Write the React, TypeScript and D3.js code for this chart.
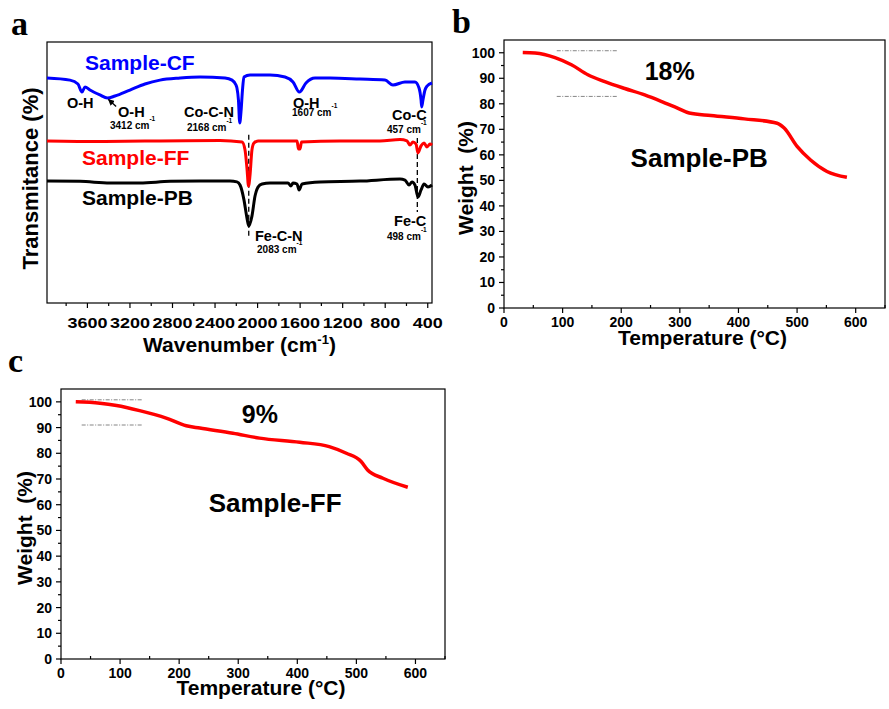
import React from 'react';
import * as d3 from 'd3';

// ---- FTIR spectra (wavenumber cm-1, transmittance a.u.) ----
const cfSpectrum: [number, number][] = [
  [3980, 86.2], [3764, 85.4], [3689, 83.9], [3651, 80.8], [3623, 82.8], [3576, 81.6],
  [3482, 79.7], [3412, 78.5], [3341, 79.3], [3200, 81.6], [3059, 83.9], [2918, 85.4],
  [2729, 86.2], [2541, 86.6], [2306, 86.2], [2240, 85.4], [2203, 83.5], [2194, 82.4],
  [2180, 77.8], [2168, 69.0], [2156, 73.2], [2142, 81.6], [2128, 86.6], [2071, 87.4],
  [1883, 87.4], [1742, 86.6], [1667, 84.7], [1607, 80.8], [1545, 84.3], [1460, 86.2],
  [1319, 86.2], [1037, 85.8], [802, 85.4], [727, 83.5], [614, 84.7], [520, 84.7],
  [482, 82.4], [463, 77.8], [457, 75.1], [445, 77.8], [426, 81.6], [407, 83.1], [360, 84.3],
];
const ffSpectrum: [number, number][] = [
  [3980, 62.1], [3482, 61.9], [2918, 62.1], [2353, 62.3], [2146, 61.7], [2118, 58.6],
  [2100, 51.7], [2085, 44.8], [2071, 49.0], [2053, 58.6], [2034, 61.3], [1996, 62.1],
  [1629, 62.1], [1615, 59.0], [1601, 59.0], [1587, 61.7], [1225, 62.1], [849, 62.1],
  [661, 62.6], [595, 62.1], [567, 60.5], [539, 61.7], [510, 60.9], [492, 57.5],
  [463, 60.2], [435, 61.3], [407, 59.8], [379, 60.9], [360, 60.5],
];
const pbSpectrum: [number, number][] = [
  [3980, 46.7], [3670, 46.6], [3388, 46.0], [3106, 46.0], [2823, 46.6], [2541, 46.7],
  [2259, 46.7], [2194, 46.4], [2165, 45.2], [2128, 39.5], [2100, 32.6], [2083, 29.5],
  [2053, 33.3], [2024, 41.0], [1996, 44.4], [1958, 45.6], [1883, 46.0], [1714, 46.0],
  [1686, 44.8], [1667, 46.0], [1629, 45.6], [1610, 43.3], [1582, 45.6], [1413, 46.4],
  [1037, 46.7], [661, 47.5], [614, 47.1], [576, 45.2], [548, 46.4], [520, 45.2],
  [492, 40.6], [463, 43.3], [435, 45.6], [398, 44.4], [360, 45.2],
];
const ftirMajorTicks = [3600, 3200, 2800, 2400, 2000, 1600, 1200, 800, 400];
const ftirMinorTicks = [3800, 3400, 3000, 2600, 2200, 1800, 1400, 1000, 600];

// dashed guides: wavenumber, top, bottom
const ftirGuides = [
  { wn: 2083, top: 64.5, bottom: 25 },
  { wn: 498, top: 63.2, bottom: 34.9 },
];

// peak labels: text, wavenumber at left edge, baseline value, size, superscript
const ftirLabels = [
  { text: 'O-H', wn: 3792, t: 74.7, size: 14.5, sup: false },
  { text: 'O-H', wn: 3312, t: 71.3, size: 14.5, sup: false },
  { text: '3412 cm', wn: 3388, t: 66.7, size: 10, sup: true },
  { text: 'Co-C-N', wn: 2692, t: 71.3, size: 14.5, sup: false },
  { text: '2168 cm', wn: 2664, t: 65.9, size: 10, sup: true },
  { text: 'O-H', wn: 1667, t: 74.7, size: 14.5, sup: false },
  { text: '1607 cm', wn: 1676, t: 71.6, size: 10, sup: true },
  { text: 'Co-C', wn: 736, t: 70.1, size: 14.5, sup: false },
  { text: '457 cm', wn: 783, t: 65.1, size: 10, sup: true },
  { text: 'Fe-C-N', wn: 2024, t: 23.8, size: 14.5, sup: false },
  { text: '2083 cm', wn: 2005, t: 19.2, size: 10, sup: true },
  { text: 'Fe-C', wn: 717, t: 29.5, size: 14.5, sup: false },
  { text: '498 cm', wn: 783, t: 24.1, size: 10, sup: true },
];
const sampleLabels = [
  { text: 'Sample-CF', wn: 3623, t: 89.3, color: '#0000ff' },
  { text: 'Sample-FF', wn: 3651, t: 52.9, color: '#ff0000' },
  { text: 'Sample-PB', wn: 3651, t: 37.5, color: '#000000' },
];

// ---- TGA curves (temperature C, weight %) ----
const tgaPB: [number, number][] = [
  [32, 100.1], [53, 99.9], [87, 98.1], [115, 95.3], [143, 91.4], [172, 88.7],
  [206, 86.0], [240, 83.5], [268, 81.0], [296, 78.3], [316, 76.4], [353, 75.4],
  [410, 74.1], [466, 72.4], [478, 70.5], [500, 63.3], [523, 58.0], [551, 53.5], [585, 51.2],
];
const tgaFF: [number, number][] = [
  [25, 100.0], [66, 99.5], [94, 98.6], [133, 96.6], [178, 93.7], [212, 90.7],
  [235, 89.8], [291, 87.8], [336, 85.9], [404, 84.3], [454, 82.6], [483, 80.0],
  [508, 76.8], [519, 73.5], [545, 70.3], [587, 66.8],
];
const pbGuides = { from: 90, to: 194, levels: [100.8, 82.9] };
const ffGuides = { from: 35, to: 139, levels: [100.8, 91] };

const SANS = '"Liberation Sans", Arial, sans-serif';
const SERIF = '"Liberation Serif", "Times New Roman", serif';

function FtirPanel() {
  const x = d3.scaleLinear().domain([3980, 360]).range([47, 432]);
  const y = d3.scaleLinear().domain([0, 100]).range([303, 42]);
  const line = d3.line<[number, number]>()
    .x(d => x(d[0]))
    .y(d => y(d[1]))
    .curve(d3.curveMonotoneX);
  const [x0, x1] = x.range();
  const [y0, y1] = y.range();

  return (
    <g>
      <text x={11} y={35} fontFamily={SERIF} fontWeight="bold" fontSize={34}>a</text>
      <rect x={x0} y={y1} width={x1 - x0} height={y0 - y1} fill="none" stroke="#000" strokeWidth={1.2} />

      {ftirMajorTicks.map(t => (
        <g key={t}>
          <line x1={x(t)} x2={x(t)} y1={y0} y2={y0 + 5} stroke="#000" strokeWidth={1.2} />
          <text x={x(t)} y={y0 + 25} textAnchor="middle" fontFamily={SANS} fontWeight="bold"
            fontSize={15} textLength={t >= 1000 ? 40 : 30} lengthAdjust="spacingAndGlyphs">{t}</text>
        </g>
      ))}
      {ftirMinorTicks.map(t => (
        <line key={t} x1={x(t)} x2={x(t)} y1={y0} y2={y0 + 3} stroke="#000" strokeWidth={1.2} />
      ))}

      <text x={(x0 + x1) / 2} y={352} textAnchor="middle" fontFamily={SANS} fontWeight="bold" fontSize={21}>
        Wavenumber (cm<tspan dy={-8} fontSize={13}>-1</tspan><tspan dy={8}>)</tspan>
      </text>
      <text transform={`translate(38,${(y0 + y1) / 2 + 6}) rotate(-90)`} textAnchor="middle"
        fontFamily={SANS} fontWeight="bold" fontSize={22}>Transmitance (%)</text>

      {ftirGuides.map(g => (
        <line key={g.wn} x1={x(g.wn)} x2={x(g.wn)} y1={y(g.top)} y2={y(g.bottom)}
          stroke="#000" strokeWidth={1.3} strokeDasharray="5,3" />
      ))}

      <path d={line(pbSpectrum) || ''} fill="none" stroke="#000" strokeWidth={3} />
      <path d={line(ffSpectrum) || ''} fill="none" stroke="#ff0000" strokeWidth={3} />
      <path d={line(cfSpectrum) || ''} fill="none" stroke="#0000ff" strokeWidth={3} />

      <defs>
        <marker id="arrowHead" viewBox="0 0 10 10" refX="9" refY="5" markerWidth="5" markerHeight="5" orient="auto">
          <path d="M0,0 L10,5 L0,10 z" fill="#000" />
        </marker>
      </defs>
      <line x1={x(3330)} y1={y(75.3)} x2={x(3402)} y2={y(78)} stroke="#000" strokeWidth={1.3} markerEnd="url(#arrowHead)" />

      {sampleLabels.map(s => (
        <text key={s.text} x={x(s.wn)} y={y(s.t)} fill={s.color} fontFamily={SANS} fontWeight="bold" fontSize={21}>
          {s.text}
        </text>
      ))}
      {ftirLabels.map((l, i) => (
        <text key={i} x={x(l.wn)} y={y(l.t)} fontFamily={SANS} fontWeight="bold" fontSize={l.size}>
          {l.text}
          {l.sup && <tspan dy={-8} fontSize={6.5}>-1</tspan>}
        </text>
      ))}
    </g>
  );
}

type TgaProps = {
  letter: string;
  letterPos: [number, number];
  xRange: [number, number];
  yRange: [number, number];
  data: [number, number][];
  guides: { from: number; to: number; levels: number[] };
  pctLabel: { text: string; t: number; w: number };
  nameLabel: { text: string; t: number; w: number };
  yTitleX: number;
  xTitleY: number;
};

function TgaPanel(p: TgaProps) {
  const x = d3.scaleLinear().domain([0, 650]).range(p.xRange);
  const y = d3.scaleLinear().domain([0, 105]).range(p.yRange);
  const line = d3.line<[number, number]>()
    .x(d => x(d[0]))
    .y(d => y(d[1]))
    .curve(d3.curveMonotoneX);
  const [x0, x1] = p.xRange;
  const [y0, y1] = p.yRange;
  const xTicks = x.ticks(7);
  const yTicks = y.ticks(10);

  return (
    <g>
      <text x={p.letterPos[0]} y={p.letterPos[1]} fontFamily={SERIF} fontWeight="bold" fontSize={34}>{p.letter}</text>
      <rect x={x0} y={y1} width={x1 - x0} height={y0 - y1} fill="none" stroke="#000" strokeWidth={1.2} />

      {yTicks.map(t => (
        <g key={t}>
          <line x1={x0 - 5} x2={x0} y1={y(t)} y2={y(t)} stroke="#000" strokeWidth={1.2} />
          {t < 100 && <line x1={x0 - 3} x2={x0} y1={y(t + 5)} y2={y(t + 5)} stroke="#000" strokeWidth={1.2} />}
          <text x={x0 - 9} y={y(t) + 5} textAnchor="end" fontFamily={SANS} fontWeight="bold" fontSize={14}>{t}</text>
        </g>
      ))}
      {xTicks.map(t => (
        <g key={t}>
          <line x1={x(t)} x2={x(t)} y1={y0} y2={y0 + 5} stroke="#000" strokeWidth={1.2} />
          <line x1={x(t + 50)} x2={x(t + 50)} y1={y0} y2={y0 - 3} stroke="#000" strokeWidth={1.2} />
          <text x={x(t)} y={y0 + 19} textAnchor="middle" fontFamily={SANS} fontWeight="bold" fontSize={14}>{t}</text>
        </g>
      ))}

      <text x={(x0 + x1) / 2 + 8} y={p.xTitleY} textAnchor="middle" fontFamily={SANS} fontWeight="bold" fontSize={21}>
        Temperature (°C)
      </text>
      <text transform={`translate(${p.yTitleX},${(y0 + y1) / 2 + 4}) rotate(-90)`} textAnchor="middle"
        fontFamily={SANS} fontWeight="bold" fontSize={21}>{'Weight\u00a0\u00a0(%)'}</text>

      {p.guides.levels.map(l => (
        <line key={l} x1={x(p.guides.from)} x2={x(p.guides.to)} y1={y(l)} y2={y(l)}
          stroke="#777" strokeWidth={0.9} strokeDasharray="4,1.5,1,1.5" />
      ))}

      <path d={line(p.data) || ''} fill="none" stroke="#ff0000" strokeWidth={3.5} />

      <text x={x(p.pctLabel.t)} y={y(p.pctLabel.w)} fontFamily={SANS} fontWeight="bold" fontSize={25}>{p.pctLabel.text}</text>
      <text x={x(p.nameLabel.t)} y={y(p.nameLabel.w)} fontFamily={SANS} fontWeight="bold" fontSize={26}>{p.nameLabel.text}</text>
    </g>
  );
}

export default function App() {
  return (
    <div style={{ position: 'absolute', left: 0, top: 0, width: 889, height: 709, background: '#fff' }}>
      <svg width={889} height={709} viewBox="0 0 889 709">
        <rect width={889} height={709} fill="#fff" />
        <FtirPanel />
        <TgaPanel
          letter="b" letterPos={[452, 33]}
          xRange={[504, 885]} yRange={[308, 40]}
          data={tgaPB} guides={pbGuides}
          pctLabel={{ text: '18%', t: 240, w: 89.3 }}
          nameLabel={{ text: 'Sample-PB', t: 216, w: 55.3 }}
          yTitleX={473} xTitleY={345}
        />
        <TgaPanel
          letter="c" letterPos={[8, 372]}
          xRange={[61, 445]} yRange={[659, 389]}
          data={tgaFF} guides={ffGuides}
          pctLabel={{ text: '9%', t: 306, w: 91.8 }}
          nameLabel={{ text: 'Sample-FF', t: 250, w: 57.2 }}
          yTitleX={32} xTitleY={695}
        />
      </svg>
    </div>
  );
}
